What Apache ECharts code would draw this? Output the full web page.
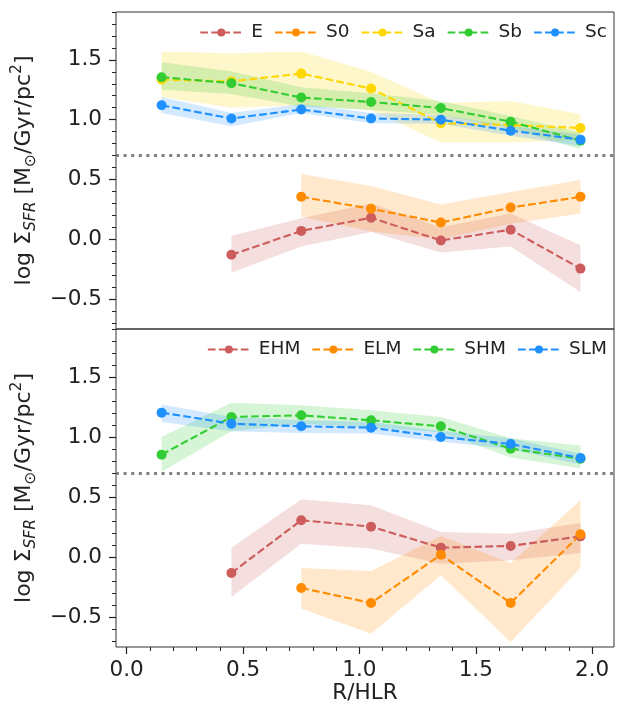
<!DOCTYPE html>
<html><head><meta charset="utf-8">
<script src="https://cdn.jsdelivr.net/npm/echarts@6/dist/echarts.min.js"></script>
<style>html,body{margin:0;padding:0;background:#fff}#c{width:617px;height:711px}</style>
</head><body><div id="c"></div>
<script>
// ---- data ----
const R = [0.15, 0.45, 0.75, 1.05, 1.35, 1.65, 1.95];

// top panel (morphological types)
const E     = [null, -0.13, 0.07, 0.18, -0.01, 0.08, -0.245];
const E_lo  = [null, -0.28, -0.06, 0.06, -0.11, -0.06, -0.44];
const E_hi  = [null, 0.03, 0.175, 0.30, 0.10, 0.215, -0.05];
const S0    = [null, null, 0.355, 0.255, 0.14, 0.265, 0.355];
const S0_lo = [null, null, 0.19, 0.065, 0.0, 0.13, 0.215];
const S0_hi = [null, null, 0.545, 0.445, 0.29, 0.395, 0.495];
const Sa    = [1.335, 1.32, 1.385, 1.26, 0.97, 0.955, 0.93];
const Sa_lo = [1.19, 1.10, 1.12, 1.08, 0.81, 0.81, 0.83];
const Sa_hi = [1.57, 1.555, 1.57, 1.40, 1.14, 1.155, 1.045];
const Sb    = [1.355, 1.305, 1.185, 1.148, 1.097, 0.983, 0.825];
const Sb_lo = [1.25, 1.215, 1.11, 1.08, 1.04, 0.93, 0.75];
const Sb_hi = [1.48, 1.405, 1.27, 1.22, 1.155, 1.03, 0.89];
const Sc    = [1.12, 1.01, 1.085, 1.01, 1.0, 0.908, 0.833];
const Sc_lo = [1.055, 0.945, 1.055, 0.97, 0.965, 0.865, 0.78];
const Sc_hi = [1.19, 1.055, 1.13, 1.055, 1.04, 0.95, 0.875];

// bottom panel (mass groups)
const EHM    = [null, -0.133, 0.306, 0.253, 0.078, 0.092, 0.172];
const EHM_lo = [null, -0.333, 0.111, 0.07, -0.056, -0.028, 0.033];
const EHM_hi = [null, 0.078, 0.481, 0.431, 0.208, 0.194, 0.283];
const ELM    = [null, null, -0.258, -0.383, 0.019, -0.383, 0.189];
const ELM_lo = [null, null, -0.43, -0.64, -0.153, -0.708, -0.092];
const ELM_hi = [null, null, -0.092, -0.117, 0.175, -0.05, 0.472];
const SHM    = [0.853, 1.167, 1.181, 1.139, 1.089, 0.903, 0.819];
const SHM_lo = [0.71, 1.047, 1.11, 1.08, 1.04, 0.83, 0.74];
const SHM_hi = [1.0, 1.286, 1.264, 1.222, 1.167, 0.99, 0.93];
const SLM    = [1.203, 1.111, 1.089, 1.078, 1.0, 0.942, 0.825];
const SLM_lo = [1.125, 1.047, 1.033, 1.03, 0.96, 0.90, 0.77];
const SLM_hi = [1.27, 1.167, 1.14, 1.125, 1.05, 0.99, 0.86];

const HLINE = 0.7;
const X_TICKS = [0.0, 0.5, 1.0, 1.5, 2.0];
const Y_TICKS = [-0.5, 0.0, 0.5, 1.0, 1.5];
const X_MIN = -0.046, X_MAX = 2.094, Y_MIN = -0.75, Y_MAX = 1.9;

const TOP_NAMES = ['E', 'S0', 'Sa', 'Sb', 'Sc'];
const BOT_NAMES = ['EHM', 'ELM', 'SHM', 'SLM'];

// ---- helpers ----
const FONT = 'DejaVu Sans';
const TXT = '#222';
const TICK_FS = 21.5;
const COL = { E: '#CD5C5C', S0: '#FF8C00', Sa: '#FFD700', Sb: '#32CD32', Sc: '#1E90FF',
              EHM: '#CD5C5C', ELM: '#FF8C00', SHM: '#32CD32', SLM: '#1E90FF' };

function minorList(lo, hi, majors) {
  const out = [];
  for (let k = Math.round(lo * 10); k <= Math.round(hi * 10); k++) {
    const v = k / 10;
    if (!majors.some(m => Math.abs(m - v) < 1e-9)) out.push(v);
  }
  return out;
}
const X_MINOR = minorList(0.0, 2.0, X_TICKS);
const Y_MINOR = minorList(-0.7, 1.9, Y_TICKS);

const fmt = v => (v < -1e-9 ? '\u2212' + Math.abs(v).toFixed(1) : Math.abs(v).toFixed(1));

function pairs(vals) {
  return R.map((x, i) => vals[i] == null ? null : [x, vals[i]]).filter(Boolean);
}

function band(name, lo, hi, gi) {
  const pts = R.map((x, i) => lo[i] == null ? null : [x, lo[i], hi[i]]).filter(Boolean);
  const fill = echarts.color.modifyAlpha(COL[name], 0.2);
  return {
    type: 'custom', name: name + '_band', xAxisIndex: gi * 2, yAxisIndex: gi * 2,
    data: pts, silent: true, z: 1, clip: true,
    encode: { x: 0, y: [1, 2] },
    renderItem(params, api) {
      if (params.dataIndex !== 0) return null;
      const up = pts.map(p => api.coord([p[0], p[2]]));
      const dn = pts.map(p => api.coord([p[0], p[1]])).reverse();
      return { type: 'polygon', shape: { points: up.concat(dn) }, style: { fill: fill, stroke: null } };
    }
  };
}

function line(name, vals, gi) {
  return {
    type: 'line', name: name, xAxisIndex: gi * 2, yAxisIndex: gi * 2,
    data: pairs(vals), symbol: 'circle', symbolSize: 10, showSymbol: true, z: 3,
    itemStyle: { color: COL[name], borderWidth: 0 },
    lineStyle: { color: COL[name], width: 2.1, type: [7.7, 3.3] },
    emphasis: { disabled: true }
  };
}

function hline(gi) {
  return {
    type: 'line', name: 'hline' + gi, xAxisIndex: gi * 2, yAxisIndex: gi * 2, data: [], z: 4,
    markLine: {
      silent: true, symbol: 'none', label: { show: false }, animation: false,
      lineStyle: { color: '#808080', width: 3, type: [3, 4.6] },
      emphasis: { disabled: true },
      data: [{ yAxis: HLINE }]
    }
  };
}

const grids = [
  { left: 116, right: 3, top: 12, height: 317 },
  { left: 116, right: 3, top: 329, height: 318 }
].map(g => Object.assign(g, { show: true, borderColor: '#333', borderWidth: 1, backgroundColor: 'transparent', containLabel: false }));

const yName = '{n|log }{n|\u03A3}{s|SFR}{n| [M}{o|\u2299}{n|/Gyr/pc}{p|2}{n|]}';
const yRich = {
  n: { fontSize: 22, fontFamily: FONT, color: TXT, lineHeight: 30 },
  s: { fontSize: 15.5, fontFamily: FONT, color: TXT, fontStyle: 'italic', lineHeight: 15, verticalAlign: 'bottom' },
  o: { fontSize: 15.5, fontFamily: FONT, color: TXT, lineHeight: 15, verticalAlign: 'bottom' },
  p: { fontSize: 15.5, fontFamily: FONT, color: TXT, lineHeight: 15, verticalAlign: 'top' }
};

const xAxes = [], yAxes = [];
[0, 1].forEach(gi => {
  const isBottom = gi === 1;
  xAxes.push({
    type: 'value', gridIndex: gi, min: X_MIN, max: X_MAX, show: isBottom, position: 'bottom',
    axisLine: { show: false, onZero: false }, splitLine: { show: false },
    axisTick: { show: true, inside: false, length: 7, customValues: X_TICKS, lineStyle: { color: TXT, width: 1.2 } },
    axisLabel: { show: true, customValues: X_TICKS, formatter: fmt, margin: 12, fontSize: TICK_FS, fontFamily: FONT, color: TXT },
    name: isBottom ? 'R/HLR' : '', nameLocation: 'middle', nameGap: 35,
    nameTextStyle: { fontSize: 21.5, fontFamily: FONT, color: TXT }
  });
  xAxes.push({
    type: 'value', gridIndex: gi, min: X_MIN, max: X_MAX, show: isBottom, position: 'bottom',
    axisLine: { show: false, onZero: false }, splitLine: { show: false },
    axisTick: { show: true, inside: false, length: 4, customValues: X_MINOR, lineStyle: { color: TXT, width: 1 } },
    axisLabel: { show: false }
  });
  yAxes.push({
    type: 'value', gridIndex: gi, min: Y_MIN, max: Y_MAX, position: 'left',
    axisLine: { show: false, onZero: false }, splitLine: { show: false },
    axisTick: { show: true, inside: false, length: 7, customValues: Y_TICKS, lineStyle: { color: TXT, width: 1.2 } },
    axisLabel: { show: true, customValues: Y_TICKS, formatter: fmt, margin: 14, fontSize: TICK_FS, fontFamily: FONT, color: TXT },
    name: yName, nameLocation: 'middle', nameRotate: 90, nameGap: 74,
    nameTextStyle: { rich: yRich }
  });
  yAxes.push({
    type: 'value', gridIndex: gi, min: Y_MIN, max: Y_MAX, position: 'left',
    axisLine: { show: false, onZero: false }, splitLine: { show: false },
    axisTick: { show: true, inside: false, length: 4, customValues: Y_MINOR, lineStyle: { color: TXT, width: 1 } },
    axisLabel: { show: false }
  });
});

const legendCommon = {
  right: 10, orient: 'horizontal', padding: 0, itemWidth: 42, itemHeight: 10, itemGap: 11,
  textStyle: { fontSize: 18.5, fontFamily: FONT, color: TXT, padding: [0, 0, 0, 4] },
  selectedMode: false
};

const series = [];
const topSets = [['E', E, E_lo, E_hi], ['S0', S0, S0_lo, S0_hi], ['Sa', Sa, Sa_lo, Sa_hi], ['Sb', Sb, Sb_lo, Sb_hi], ['Sc', Sc, Sc_lo, Sc_hi]];
const botSets = [['EHM', EHM, EHM_lo, EHM_hi], ['ELM', ELM, ELM_lo, ELM_hi], ['SHM', SHM, SHM_lo, SHM_hi], ['SLM', SLM, SLM_lo, SLM_hi]];
[topSets, botSets].forEach((sets, gi) => {
  sets.forEach(s => { series.push(band(s[0], s[2], s[3], gi)); });
  sets.forEach(s => { series.push(line(s[0], s[1], gi)); });
  series.push(hline(gi));
});

const chart = echarts.init(document.getElementById('c'), null, { renderer: 'canvas' });
chart.setOption({
  animation: false,
  backgroundColor: '#fff',
  grid: grids,
  xAxis: xAxes,
  yAxis: yAxes,
  legend: [
    Object.assign({}, legendCommon, { top: 23, data: TOP_NAMES }),
    Object.assign({}, legendCommon, { top: 340, data: BOT_NAMES })
  ],
  series: series
});
</script></body></html>
